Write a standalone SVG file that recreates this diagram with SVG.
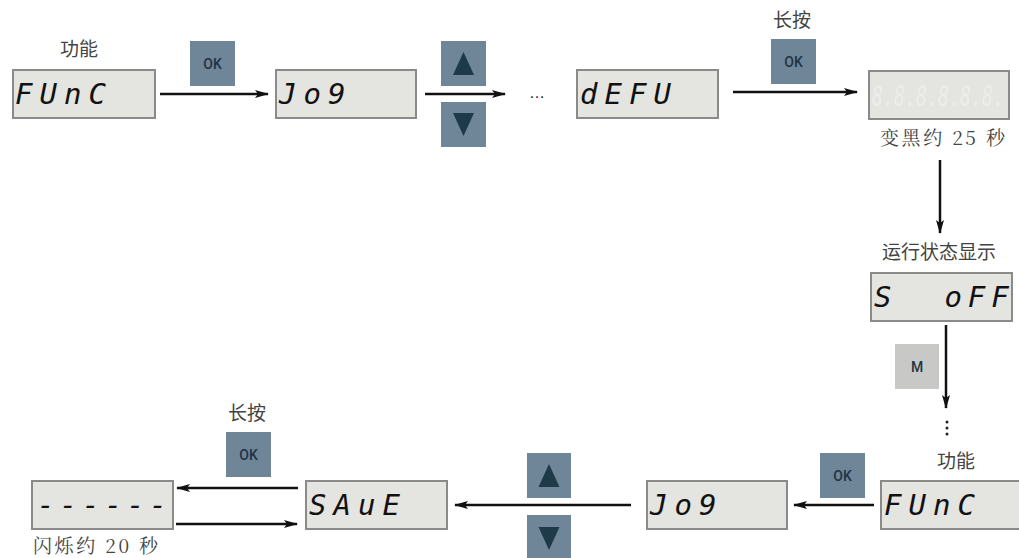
<svg xmlns="http://www.w3.org/2000/svg" width="1019" height="558" viewBox="0 0 1019 558">
<defs>
<marker id="ah" markerWidth="14" markerHeight="10" refX="13" refY="5" orient="auto" markerUnits="userSpaceOnUse">
<path d="M0,1 L14,5 L0,9 L3,5 Z" fill="#111"/>
</marker>
</defs>
<style>
.box{fill:#e4e4e0;stroke:#8a8a88;stroke-width:2}
.seg{font-family:"DejaVu Sans Mono",monospace;font-style:italic;font-size:29px;fill:#111;letter-spacing:7px}
.faint{fill:#ededeb;letter-spacing:0}
.btn{fill:#6f8598}
.btnm{fill:#c8c8c6}
.bt{font-family:"Roboto","Liberation Sans",sans-serif;font-size:14px;font-weight:500;fill:#1e3444;text-anchor:middle}
.tri{fill:#1e3a48}
.lbl{font-family:"Noto Sans CJK SC",sans-serif;font-size:19px;fill:#444}
.lbls{font-family:"Noto Serif CJK SC","Noto Sans CJK SC",serif;font-size:19px;fill:#444}
.ln{stroke:#111;stroke-width:2.5;fill:none}
</style>

<g id="n1">
<text class="lbl" x="60" y="56">功能</text>
<rect class="box" x="13" y="70" width="142" height="48"/>
<text class="seg" x="15" y="104">FUnC</text>
</g>
<g id="b1">
<rect class="btn" x="190" y="41" width="45" height="45"/>
<text class="bt" x="212.5" y="69">OK</text>
</g>
<g id="n2">
<rect class="box" x="276" y="70" width="140" height="48"/>
<text class="seg" x="279" y="104">Jo9</text>
</g>
<g id="b2">
<rect class="btn" x="441" y="41" width="45" height="45"/>
<path class="tri" d="M463.5,52 L474,75 L453,75 Z"/>
<rect class="btn" x="441" y="102" width="45" height="45"/>
<path class="tri" d="M453,113 L474,113 L463.5,136 Z"/>
</g>
<g id="dots1">
<text x="537" y="98" font-family="Liberation Sans,sans-serif" font-size="16" fill="#222" text-anchor="middle">…</text>
</g>
<g id="n3">
<rect class="box" x="577" y="70" width="141" height="48"/>
<text class="seg" x="580" y="104">dEFU</text>
</g>
<g id="b3">
<text class="lbl" x="773" y="27">长按</text>
<rect class="btn" x="771" y="39" width="45" height="45"/>
<text class="bt" x="793.5" y="67">OK</text>
</g>
<g id="n4">
<rect class="box" x="869" y="71" width="140" height="48"/>
<text class="seg faint" transform="translate(872,106) scale(0.63,1)">8.8.8.8.8.8.</text>
<text class="lbls" x="880" y="145" textLength="125">变黑约 25 秒</text>
</g>
<g id="n5">
<text class="lbl" x="882" y="259">运行状态显示</text>
<rect class="box" x="871" y="273" width="141" height="48"/>
<text class="seg" x="874" y="307" style="letter-spacing:6px" xml:space="preserve">S  oFF</text>
</g>
<g id="b5">
<rect class="btnm" x="895" y="344" width="44" height="45"/>
<text class="bt" x="917" y="372">M</text>
</g>
<g id="dots2">
<circle cx="947" cy="422" r="1.5" fill="#222"/>
<circle cx="947" cy="428" r="1.5" fill="#222"/>
<circle cx="947" cy="434" r="1.5" fill="#222"/>
</g>
<g id="n6">
<text class="lbl" x="937" y="468">功能</text>
<rect class="box" x="881" y="481" width="142" height="48"/>
<text class="seg" x="884" y="515">FUnC</text>
</g>
<g id="b6">
<rect class="btn" x="820" y="453" width="45" height="45"/>
<text class="bt" x="842.5" y="481">OK</text>
</g>
<g id="n7">
<rect class="box" x="647" y="481" width="140" height="48"/>
<text class="seg" x="650" y="515">Jo9</text>
</g>
<g id="b7">
<rect class="btn" x="527" y="453" width="44" height="45"/>
<path class="tri" d="M549,464 L559.5,487 L538.5,487 Z"/>
<rect class="btn" x="527" y="515" width="44" height="45"/>
<path class="tri" d="M538.5,527 L559.5,527 L549,550 Z"/>
</g>
<g id="n8">
<rect class="box" x="306" y="481" width="141" height="48"/>
<text class="seg" x="309" y="515">SAuE</text>
</g>
<g id="b8">
<text class="lbl" x="228" y="420">长按</text>
<rect class="btn" x="226" y="432" width="45" height="45"/>
<text class="bt" x="248.5" y="460">OK</text>
</g>
<g id="n9">
<rect class="box" x="32" y="481" width="141" height="48"/>
<text class="seg" x="37" y="515" style="letter-spacing:5px">------</text>
<text class="lbls" x="33" y="553" textLength="125">闪烁约 20 秒</text>
</g>

<g id="connectors">
<line class="ln" x1="160" y1="94" x2="268" y2="94" marker-end="url(#ah)"/>
<line class="ln" x1="425" y1="94" x2="505" y2="94" marker-end="url(#ah)"/>
<line class="ln" x1="733" y1="92" x2="857" y2="92" marker-end="url(#ah)"/>
<line class="ln" x1="940" y1="160" x2="940" y2="233" marker-end="url(#ah)"/>
<line class="ln" x1="946" y1="325" x2="946" y2="408" marker-end="url(#ah)"/>
<line class="ln" x1="874" y1="505" x2="794" y2="505" marker-end="url(#ah)"/>
<line class="ln" x1="631" y1="505" x2="455" y2="505" marker-end="url(#ah)"/>
<line class="ln" x1="298" y1="488" x2="177" y2="488" marker-end="url(#ah)"/>
<line class="ln" x1="176" y1="524" x2="297" y2="524" marker-end="url(#ah)"/>
</g>
</svg>
